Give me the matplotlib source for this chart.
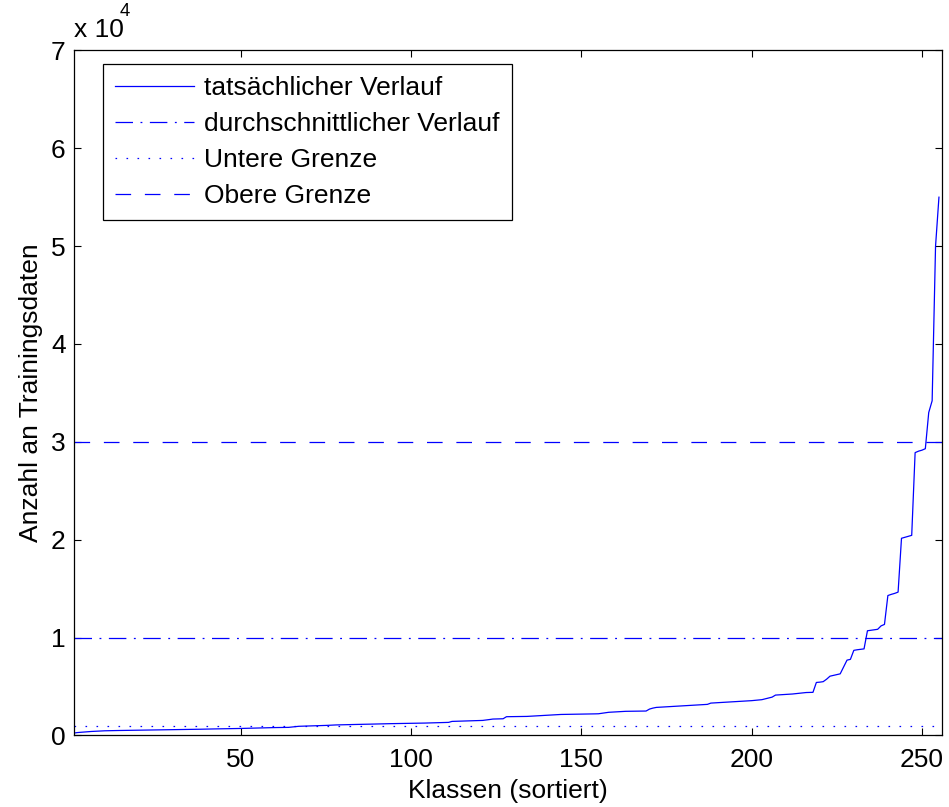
import numpy as np
import matplotlib
matplotlib.use("Agg")
import matplotlib.pyplot as plt

# Anzahl Trainingsdaten pro Klasse (sortiert)
anzahl = [
    250, 300, 330, 360, 390, 410, 430, 450, 470, 480,
    490, 500, 505, 510, 515, 520, 525, 530, 535, 540,
    545, 550, 555, 560, 565, 570, 575, 580, 585, 590,
    595, 600, 605, 610, 615, 620, 630, 640, 650, 660,
    665, 670, 675, 680, 685, 690, 700, 705, 710, 720,
    730, 740, 750, 760, 770, 780, 790, 800, 805, 810,
    815, 820, 825, 830, 870, 910, 940, 950, 960, 970,
    980, 990, 1000, 1010, 1030, 1050, 1070, 1080, 1090, 1100,
    1110, 1120, 1125, 1130, 1135, 1140, 1150, 1160, 1170, 1180,
    1190, 1200, 1205, 1210, 1215, 1220, 1225, 1230, 1240, 1245,
    1250, 1255, 1260, 1270, 1280, 1285, 1290, 1300, 1310, 1320,
    1340, 1440, 1450, 1460, 1470, 1480, 1490, 1500, 1510, 1520,
    1540, 1580, 1630, 1680, 1690, 1700, 1710, 1920, 1925, 1930,
    1935, 1940, 1945, 1950, 1970, 1990, 2010, 2030, 2050, 2070,
    2090, 2110, 2130, 2150, 2155, 2160, 2165, 2170, 2175, 2180,
    2185, 2190, 2200, 2210, 2220, 2270, 2320, 2370, 2390, 2410,
    2430, 2450, 2470, 2475, 2480, 2485, 2490, 2495, 2500, 2700,
    2800, 2870, 2890, 2910, 2930, 2950, 2970, 2990, 3000, 3020,
    3040, 3060, 3080, 3100, 3130, 3160, 3180, 3310, 3330, 3350,
    3370, 3390, 3410, 3430, 3450, 3470, 3490, 3510, 3530, 3560,
    3590, 3620, 3660, 3750, 3830, 3920, 4130, 4150, 4170, 4190,
    4200, 4240, 4280, 4330, 4370, 4390, 4400, 4410, 5420, 5450,
    5500, 5750, 6060, 6140, 6220, 6300, 7000, 7700, 7780, 8700,
    8760, 8800, 8850, 10700, 10750, 10800, 10850, 11200, 11350, 14300,
    14420, 14520, 14650, 20150, 20250, 20350, 20450, 28900, 29050, 29150,
    29300, 33000, 34200, 50000, 55000,
]
klassen = list(range(1, len(anzahl) + 1))

durchschnitt = 10000
untere_grenze = 1000
obere_grenze = 30000
x_bereich = [1, 256]

x_ticks = [50, 100, 150, 200, 250]
y_ticks = [0, 10000, 20000, 30000, 40000, 50000, 60000, 70000]
y_tick_labels = ["0", "1", "2", "3", "4", "5", "6", "7"]

plt.rcParams["font.family"] = ["Liberation Sans", "DejaVu Sans"]
fs = 19

fig = plt.figure(figsize=(9.49, 8.07), dpi=100)
ax = fig.add_axes([0.078, 0.0886, 0.915, 0.849])

ax.plot(klassen, anzahl, color="blue", lw=0.9, label="tatsächlicher Verlauf")
ax.plot(x_bereich, [durchschnitt] * 2, color="blue", lw=0.9,
        linestyle=(0, (14, 6, 1.5, 6)), label="durchschnittlicher Verlauf")
ax.plot(x_bereich, [untere_grenze] * 2, color="blue", lw=0.9,
        linestyle=(0, (1.3, 7.5)), label="Untere Grenze")
ax.plot(x_bereich, [obere_grenze] * 2, color="blue", lw=0.9,
        linestyle=(0, (12.5, 11)), label="Obere Grenze")

ax.set_xlim(x_bereich)
ax.set_ylim(0, 70000)
ax.set_xticks(x_ticks)
ax.set_yticks(y_ticks)
ax.set_yticklabels(y_tick_labels)
ax.tick_params(direction="in", length=5, width=0.8, labelsize=fs, pad=6,
               top=True, right=True)
ax.tick_params(axis="x", pad=9)
for sp in ax.spines.values():
    sp.set_linewidth(0.9)

ax.set_xlabel("Klassen (sortiert)", fontsize=fs, labelpad=5)
ax.set_ylabel("Anzahl an Trainingsdaten", fontsize=fs, labelpad=6)

# Exponent oben links wie in MATLAB
ax.text(0.0, 1.012, "x 10", transform=ax.transAxes, fontsize=fs,
        ha="left", va="bottom")
ax.text(0.053, 1.045, "4", transform=ax.transAxes, fontsize=fs * 0.7,
        ha="left", va="bottom")

leg = ax.legend(loc="upper left", bbox_to_anchor=(0.033, 0.9794),
                borderaxespad=0, fontsize=fs, fancybox=False,
                edgecolor="black", framealpha=1, handlelength=3.0,
                handletextpad=0.4, labelspacing=0.45, borderpad=0.45)
leg.get_frame().set_linewidth(0.9)

plt.savefig("out.png", dpi=100)
